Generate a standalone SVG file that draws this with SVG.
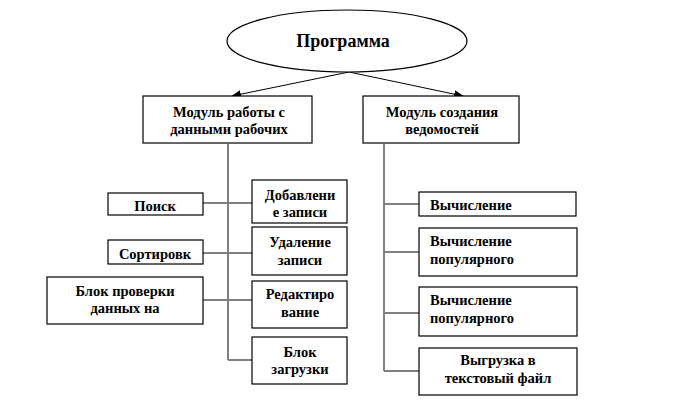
<svg xmlns="http://www.w3.org/2000/svg" width="684" height="408" viewBox="0 0 684 408">
<style>
.b{fill:#fff;stroke:#000;stroke-width:1.2}
.t{font-family:"Liberation Serif","Times New Roman",serif;font-weight:bold;font-size:14.5px;fill:#000;text-anchor:middle}
.l{text-anchor:start}
.c{stroke:#000;stroke-width:1;fill:none}
.g{stroke:#808080;stroke-width:2;fill:none}
</style>
<defs>
<marker id="ah" markerWidth="10" markerHeight="8" refX="9" refY="4" orient="auto" markerUnits="userSpaceOnUse">
<path d="M0,0 L10,4 L0,8 Z" fill="#000"/>
</marker>
</defs>
<rect width="684" height="408" fill="#fff"/>
<g id="connectors">
<line class="c" x1="349" y1="72" x2="232" y2="96" marker-end="url(#ah)"/>
<line class="c" x1="349" y1="72" x2="463" y2="96" marker-end="url(#ah)"/>
<line class="c" x1="203" y1="203" x2="252" y2="203"/>
<line class="c" x1="203" y1="253" x2="252" y2="253"/>
<line class="c" x1="203" y1="300" x2="252" y2="300"/>
<line class="c" x1="228" y1="360" x2="252" y2="360"/>
<line class="c" x1="384" y1="204" x2="419" y2="204"/>
<line class="c" x1="384" y1="252" x2="419" y2="252"/>
<line class="c" x1="384" y1="313" x2="419" y2="313"/>
<line class="c" x1="384" y1="371" x2="419" y2="371"/>
<line class="g" x1="228" y1="144" x2="228" y2="360"/>
<line class="g" x1="384" y1="144" x2="384" y2="371"/>
</g>
<g id="program">
<ellipse class="b" cx="347" cy="41" rx="120" ry="31"/>
<text class="t" x="343" y="47" style="font-size:18px">Программа</text>
</g>
<g id="module1">
<rect class="b" x="143" y="96" width="169" height="47"/>
<text class="t" x="229" y="117">Модуль работы с</text>
<text class="t" x="229" y="134">данными рабочих</text>
</g>
<g id="module2">
<rect class="b" x="363" y="96" width="156" height="47"/>
<text class="t" x="442" y="117">Модуль создания</text>
<text class="t" x="442" y="134">ведомостей</text>
</g>
<g id="search">
<rect class="b" x="108" y="193" width="95" height="22"/>
<text class="t" x="155" y="211">Поиск</text>
</g>
<g id="sort">
<rect class="b" x="108" y="240" width="95" height="24"/>
<text class="t" x="155" y="259">Сортировк</text>
</g>
<g id="check">
<rect class="b" x="47" y="277" width="156" height="47"/>
<text class="t" x="125" y="296">Блок проверки</text>
<text class="t" x="125" y="313">данных на</text>
</g>
<g id="add">
<rect class="b" x="252" y="180" width="95" height="43"/>
<text class="t" x="300" y="200">Добавлени</text>
<text class="t" x="300" y="217">е записи</text>
</g>
<g id="delete">
<rect class="b" x="252" y="227" width="95" height="48"/>
<text class="t" x="300" y="247">Удаление</text>
<text class="t" x="300" y="265">записи</text>
</g>
<g id="edit">
<rect class="b" x="252" y="281" width="95" height="47"/>
<text class="t" x="300" y="299">Редактиро</text>
<text class="t" x="300" y="317">вание</text>
</g>
<g id="load">
<rect class="b" x="252" y="337" width="95" height="47"/>
<text class="t" x="300" y="357">Блок</text>
<text class="t" x="300" y="374">загрузки</text>
</g>
<g id="calc1">
<rect class="b" x="419" y="192" width="157" height="24"/>
<text class="t l" x="430" y="210">Вычисление</text>
</g>
<g id="calc2">
<rect class="b" x="419" y="228" width="158" height="48"/>
<text class="t l" x="430" y="246">Вычисление</text>
<text class="t l" x="430" y="264">популярного</text>
</g>
<g id="calc3">
<rect class="b" x="419" y="287" width="158" height="49"/>
<text class="t l" x="430" y="305">Вычисление</text>
<text class="t l" x="430" y="323">популярного</text>
</g>
<g id="export">
<rect class="b" x="419" y="348" width="158" height="47"/>
<text class="t" x="498" y="365">Выгрузка в</text>
<text class="t" x="498" y="383">текстовый файл</text>
</g>
</svg>
